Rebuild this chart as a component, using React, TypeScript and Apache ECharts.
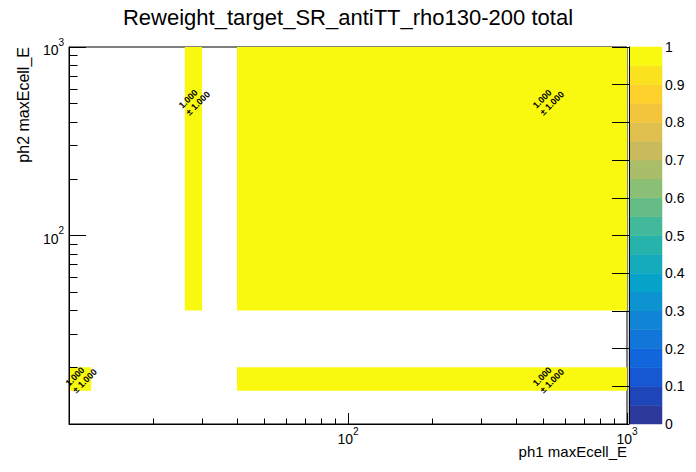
import React, { useEffect, useRef } from 'react';
import * as echarts from 'echarts';

const FONT = '"Liberation Sans", Arial, Helvetica, sans-serif';

const titleText = 'Reweight_target_SR_antiTT_rho130-200 total';
const xTitle = 'ph1 maxEcell_E';
const yTitle = 'ph2 maxEcell_E';

const xRange = [10, 1000];
const yRange = [10, 1000];
const minorTicks = [20, 30, 40, 50, 60, 70, 80, 90, 200, 300, 400, 500, 600, 700, 800, 900];
const decadeExponents: Record<number, string> = { 100: '2', 1000: '3' };

// cells (bin edges) and their contents
const cellX0 = [10, 26, 40, 40];
const cellX1 = [12, 30, 1000, 1000];
const cellY0 = [15, 40, 40, 15];
const cellY1 = [20, 1000, 1000, 20];
const cellValue = [1.0, 1.0, 1.0, 1.0];
const cellError = [1.0, 1.0, 1.0, 1.0];

// colour scale
const zLevels = [0, 0.05, 0.1, 0.15, 0.2, 0.25, 0.3, 0.35, 0.4, 0.45, 0.5, 0.55, 0.6, 0.65, 0.7, 0.75, 0.8, 0.85, 0.9, 0.95, 1.0];
const palette = [
  '#2D3A9C', '#1F46B8', '#1558D2', '#1066DA', '#1275D8', '#1284D5', '#0D93CF', '#07A2CA',
  '#15ABBC', '#26B3AC', '#41B99A', '#66BC87', '#8BBF75', '#AABD69', '#C9BB5C', '#DFBF4D',
  '#F2C53C', '#FDD02C', '#FBE21E', '#F9F90F',
];

function colorFor(v: number): string {
  let idx = 0;
  for (let i = 0; i < zLevels.length - 1; i++) {
    if (v >= zLevels[i]) idx = i;
  }
  return palette[Math.min(idx, palette.length - 1)];
}

const powerLabel = (v: number) => {
  const e = decadeExponents[Math.round(v)];
  return e ? '{b|10}{s|' + e + '}' : '';
};

const richPow = {
  b: { fontSize: 14, fontFamily: FONT, color: '#000', lineHeight: 20, verticalAlign: 'bottom' },
  s: { fontSize: 10, fontFamily: FONT, color: '#000', lineHeight: 10, verticalAlign: 'top' },
};

export default function App() {
  const ref = useRef<HTMLDivElement>(null);

  useEffect(() => {
    document.body.style.margin = '0';
    if (!ref.current) return;
    const chart = echarts.init(ref.current, undefined, { renderer: 'svg' });

    const cellData = cellX0.map((x0, i) => [x0, cellX1[i], cellY0[i], cellY1[i], cellValue[i], cellError[i]]);
    const barData = zLevels.slice(0, -1).map((lo, i) => [lo, zLevels[i + 1], i]);

    const axisLineStyle = { color: '#000', width: 1 };

    const option: any = {
      animation: false,
      backgroundColor: '#fff',
      title: {
        text: titleText,
        left: 'center',
        top: 1,
        textStyle: { fontSize: 22, fontWeight: 'normal', fontFamily: FONT, color: '#000' },
      },
      grid: [
        { left: 69, top: 47, width: 558, height: 377, show: true, borderColor: '#000', borderWidth: 1, backgroundColor: 'transparent', containLabel: false },
        { left: 629, top: 47, width: 33, height: 377, show: false, containLabel: false },
      ],
      xAxis: [
        {
          type: 'log', gridIndex: 0, logBase: 10, min: xRange[0], max: xRange[1], position: 'bottom', z: 10,
          axisLine: { show: true, lineStyle: axisLineStyle },
          axisTick: { show: true, inside: true, length: 11, lineStyle: axisLineStyle },
          axisLabel: {
            show: true, margin: 2, fontSize: 14, fontFamily: FONT, color: '#000', showMinLabel: true, showMaxLabel: true,
            formatter: powerLabel, rich: richPow,
          },
          splitLine: { show: false }, minorTick: { show: false },
        },
        {
          type: 'value', gridIndex: 0, min: Math.log10(xRange[0]), max: Math.log10(xRange[1]), position: 'bottom', offset: 0, z: 10,
          axisLine: { show: false },
          axisTick: { show: true, inside: true, length: 5.5, lineStyle: axisLineStyle, customValues: minorTicks.map((t) => Math.log10(t)) },
          axisLabel: { show: false },
          splitLine: { show: false },
        },
        {
          type: 'value', gridIndex: 1, min: 0, max: 1, show: false,
        },
      ],
      yAxis: [
        {
          type: 'log', gridIndex: 0, logBase: 10, min: yRange[0], max: yRange[1], position: 'left', z: 10,
          axisLine: { show: true, lineStyle: axisLineStyle },
          axisTick: { show: true, inside: true, length: 17, lineStyle: axisLineStyle },
          axisLabel: {
            show: true, margin: 5, fontSize: 14, fontFamily: FONT, color: '#000', showMinLabel: true, showMaxLabel: true,
            formatter: powerLabel, rich: richPow,
          },
          splitLine: { show: false }, minorTick: { show: false },
        },
        {
          type: 'value', gridIndex: 0, min: Math.log10(yRange[0]), max: Math.log10(yRange[1]), position: 'left', offset: 0, z: 10,
          axisLine: { show: false },
          axisTick: { show: true, inside: true, length: 8.5, lineStyle: axisLineStyle, customValues: minorTicks.map((t) => Math.log10(t)) },
          axisLabel: { show: false },
          splitLine: { show: false },
        },
        {
          type: 'value', gridIndex: 1, min: 0, max: 1, interval: 0.1, position: 'right', z: 10,
          axisLine: { show: true, lineStyle: axisLineStyle },
          axisTick: { show: true, inside: true, length: 17, lineStyle: axisLineStyle },
          axisLabel: { show: true, margin: 3, fontSize: 14, fontFamily: FONT, color: '#000' },
          splitLine: { show: false },
        },
      ],
      series: [
        {
          type: 'custom',
          xAxisIndex: 0,
          yAxisIndex: 0,
          encode: { x: [0, 1], y: [2, 3] },
          data: cellData,
          z: 2,
          renderItem: (params: any, api: any) => {
            const x0 = api.value(0), x1 = api.value(1), y0 = api.value(2), y1 = api.value(3);
            const v = api.value(4), e = api.value(5);
            const p0 = api.coord([x0, y0]);
            const p1 = api.coord([x1, y1]);
            const c = api.coord([(x0 + x1) / 2, (y0 + y1) / 2]);
            return {
              type: 'group',
              children: [
                {
                  type: 'rect',
                  shape: {
                    x: Math.min(p0[0], p1[0]), y: Math.min(p0[1], p1[1]),
                    width: Math.abs(p1[0] - p0[0]), height: Math.abs(p1[1] - p0[1]),
                  },
                  style: { fill: colorFor(v), stroke: null },
                },
                {
                  type: 'text',
                  x: c[0], y: c[1], rotation: Math.PI / 4,
                  style: {
                    text: v.toFixed(3) + '\n± ' + e.toFixed(3),
                    x: -14, y: 0, align: 'left', verticalAlign: 'middle',
                    fontSize: 9, fontWeight: 'bold', fontFamily: FONT, fill: '#000', lineHeight: 10,
                  },
                },
              ],
            };
          },
        },
        {
          type: 'custom',
          xAxisIndex: 2,
          yAxisIndex: 2,
          encode: { y: [0, 1] },
          data: barData,
          z: 2,
          renderItem: (params: any, api: any) => {
            const lo = api.value(0), hi = api.value(1), idx = api.value(2);
            const p0 = api.coord([0, lo]);
            const p1 = api.coord([1, hi]);
            return {
              type: 'rect',
              shape: { x: p0[0], y: p1[1], width: p1[0] - p0[0], height: p0[1] - p1[1] },
              style: { fill: palette[idx], stroke: palette[idx], lineWidth: 0.5 },
            };
          },
        },
      ],
      graphic: [
        {
          type: 'text', x: 627, y: 451,
          style: { text: xTitle, align: 'right', verticalAlign: 'middle', fontSize: 15, fontFamily: FONT, fill: '#000' },
        },
        {
          type: 'text', x: 23, y: 47, rotation: Math.PI / 2,
          style: { text: yTitle, align: 'right', verticalAlign: 'middle', fontSize: 16, fontFamily: FONT, fill: '#000' },
        },
      ],
    };

    chart.setOption(option);
    return () => chart.dispose();
  }, []);

  return <div ref={ref} style={{ width: 696, height: 472 }} />;
}
